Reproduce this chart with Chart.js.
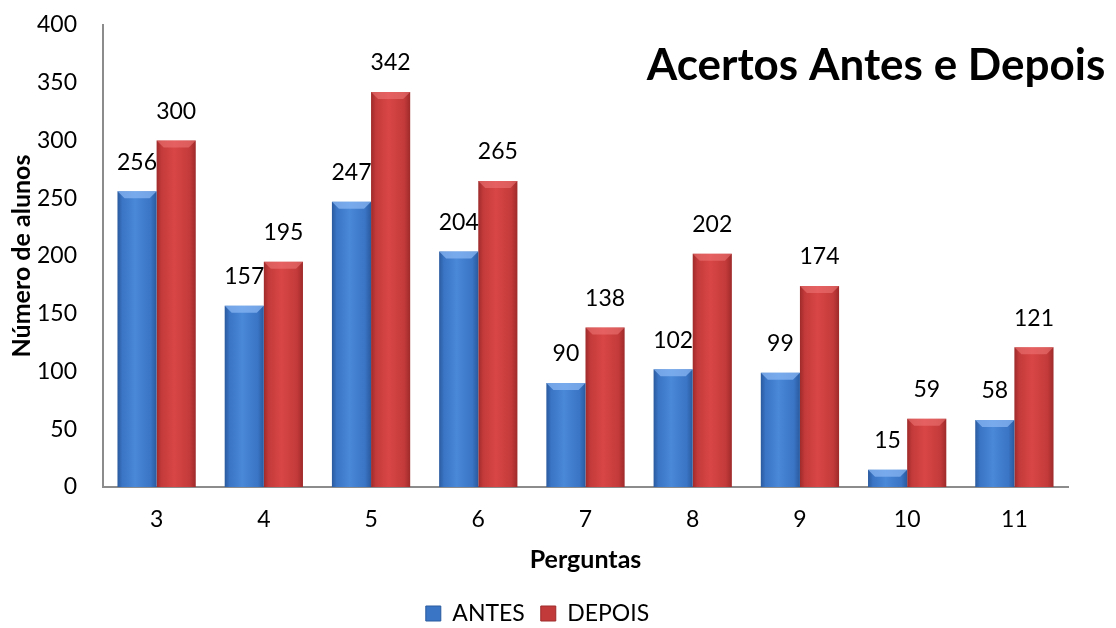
<!DOCTYPE html>
<html>
<head>
<meta charset="utf-8">
<script src="https://cdn.jsdelivr.net/npm/chart.js@4/dist/chart.umd.min.js"></script>
<style>
  html, body { margin: 0; padding: 0; background: #fff; }
  #wrap { width: 1116px; height: 628px; position: relative; }
</style>
</head>
<body>
<div id="wrap"><canvas id="c" width="1116" height="628"></canvas></div>
<script>
// Questions and number of correct answers before / after
const perguntas = ['3', '4', '5', '6', '7', '8', '9', '10', '11'];
const antes  = [256, 157, 247, 204, 90, 102, 99, 15, 58];
const depois = [300, 195, 342, 265, 138, 202, 174, 59, 121];
const yTicks = [0, 50, 100, 150, 200, 250, 300, 350, 400];

const FONT = 'Lato, "Open Sans", "Liberation Sans", sans-serif';
const CAT_PCT = 0.73;

// Horizontal shaded fill for each bar (lighter towards the middle, darker at the edges)
function shade(stops, side) {
  return function (ctx) {
    const chart = ctx.chart;
    const xs = chart.scales.x;
    if (!xs || !chart.chartArea || ctx.dataIndex === undefined) return stops[1];
    const cx = xs.getPixelForValue(ctx.dataIndex);
    const w = (xs.width / perguntas.length) * CAT_PCT / 2;
    const x0 = side === 0 ? cx - w : cx;
    const g = chart.ctx.createLinearGradient(x0, 0, x0 + w, 0);
    g.addColorStop(0, stops[0]);
    g.addColorStop(0.12, stops[1]);
    g.addColorStop(0.45, stops[2]);
    g.addColorStop(0.85, stops[1]);
    g.addColorStop(1, stops[0]);
    return g;
  };
}
const blueStops = ['#2a5a9e', '#3a74c4', '#4a88d8'];
const redStops  = ['#9e2a2a', '#c33a3a', '#d94646'];

// Value labels above the bars and the bevel highlight at each bar top
const barDecor = {
  id: 'barDecor',
  afterDatasetsDraw(chart) {
    const c = chart.ctx;
    chart.data.datasets.forEach((ds, di) => {
      const meta = chart.getDatasetMeta(di);
      meta.data.forEach((bar, i) => {
        const left = bar.x - bar.width / 2, right = bar.x + bar.width / 2;
        const bev = Math.min(7, (bar.base - bar.y) / 2);
        c.save();
        c.beginPath();
        c.moveTo(left, bar.y);
        c.lineTo(right, bar.y);
        c.lineTo(right - bev, bar.y + bev);
        c.lineTo(left + bev, bar.y + bev);
        c.closePath();
        c.fillStyle = di === 0 ? 'rgba(140,185,245,0.7)' : 'rgba(240,120,120,0.55)';
        c.fill();
        c.restore();

        c.save();
        c.font = '23px ' + FONT;
        c.fillStyle = '#000';
        c.textAlign = 'center';
        c.textBaseline = 'middle';
        c.fillText(String(ds.data[i]), bar.x, bar.y - 29);
        c.restore();
      });
    });
  }
};

// Chart heading placed inside the plot, top right
const heading = {
  id: 'heading',
  afterDraw(chart) {
    const c = chart.ctx;
    c.save();
    c.font = 'bold 44px ' + FONT;
    c.fillStyle = '#000';
    c.textAlign = 'center';
    c.textBaseline = 'middle';
    c.fillText('Acertos Antes e Depois', 876, 66);
    c.restore();
  }
};

new Chart(document.getElementById('c'), {
  type: 'bar',
  data: {
    labels: perguntas,
    datasets: [
      { label: 'ANTES', data: antes, backgroundColor: shade(blueStops, 0), borderWidth: 0 },
      { label: 'DEPOIS', data: depois, backgroundColor: shade(redStops, 1), borderWidth: 0 }
    ]
  },
  options: {
    responsive: false,
    animation: false,
    devicePixelRatio: 1,
    layout: { padding: { left: 7, right: 48, top: 0, bottom: -7 } },
    datasets: { bar: { categoryPercentage: CAT_PCT, barPercentage: 1 } },
    plugins: {
      legend: {
        position: 'bottom',
        labels: {
          font: { family: FONT, size: 23 },
          color: '#000',
          boxWidth: 15, boxHeight: 15, padding: 16,
          generateLabels(chart) {
            return chart.data.datasets.map((ds, i) => ({
              text: ds.label,
              fillStyle: i === 0 ? '#3a74c4' : '#c33a3a',
              strokeStyle: i === 0 ? '#2a5a9e' : '#9e2a2a',
              lineWidth: 1,
              datasetIndex: i
            }));
          }
        }
      },
      tooltip: { enabled: false }
    },
    scales: {
      x: {
        afterFit(axis) { axis.height = 99; },
        grid: { display: false, drawTicks: false },
        border: { color: '#8c8c8c', width: 2 },
        ticks: { color: '#000', font: { family: FONT, size: 23 }, padding: 19 },
        title: { display: true, text: 'Perguntas', color: '#000', font: { family: FONT, size: 25, weight: 'bold' }, padding: { top: 20, bottom: 11 } }
      },
      y: {
        min: 0, max: 400,
        afterBuildTicks(axis) { axis.ticks = yTicks.map(v => ({ value: v })); },
        afterFit(axis) {
          axis.width = 96;
          axis.paddingTop = 25;
          axis.paddingBottom = 14;
        },
        grid: { display: false, drawTicks: false },
        border: { color: '#8c8c8c', width: 2 },
        ticks: { color: '#000', font: { family: FONT, size: 23 }, padding: 26 },
        title: { display: true, text: 'Número de alunos', color: '#000', font: { family: FONT, size: 25, weight: 'bold' }, padding: { top: 0, bottom: 2 } }
      }
    }
  },
  plugins: [barDecor, heading]
});
</script>
</body>
</html>
